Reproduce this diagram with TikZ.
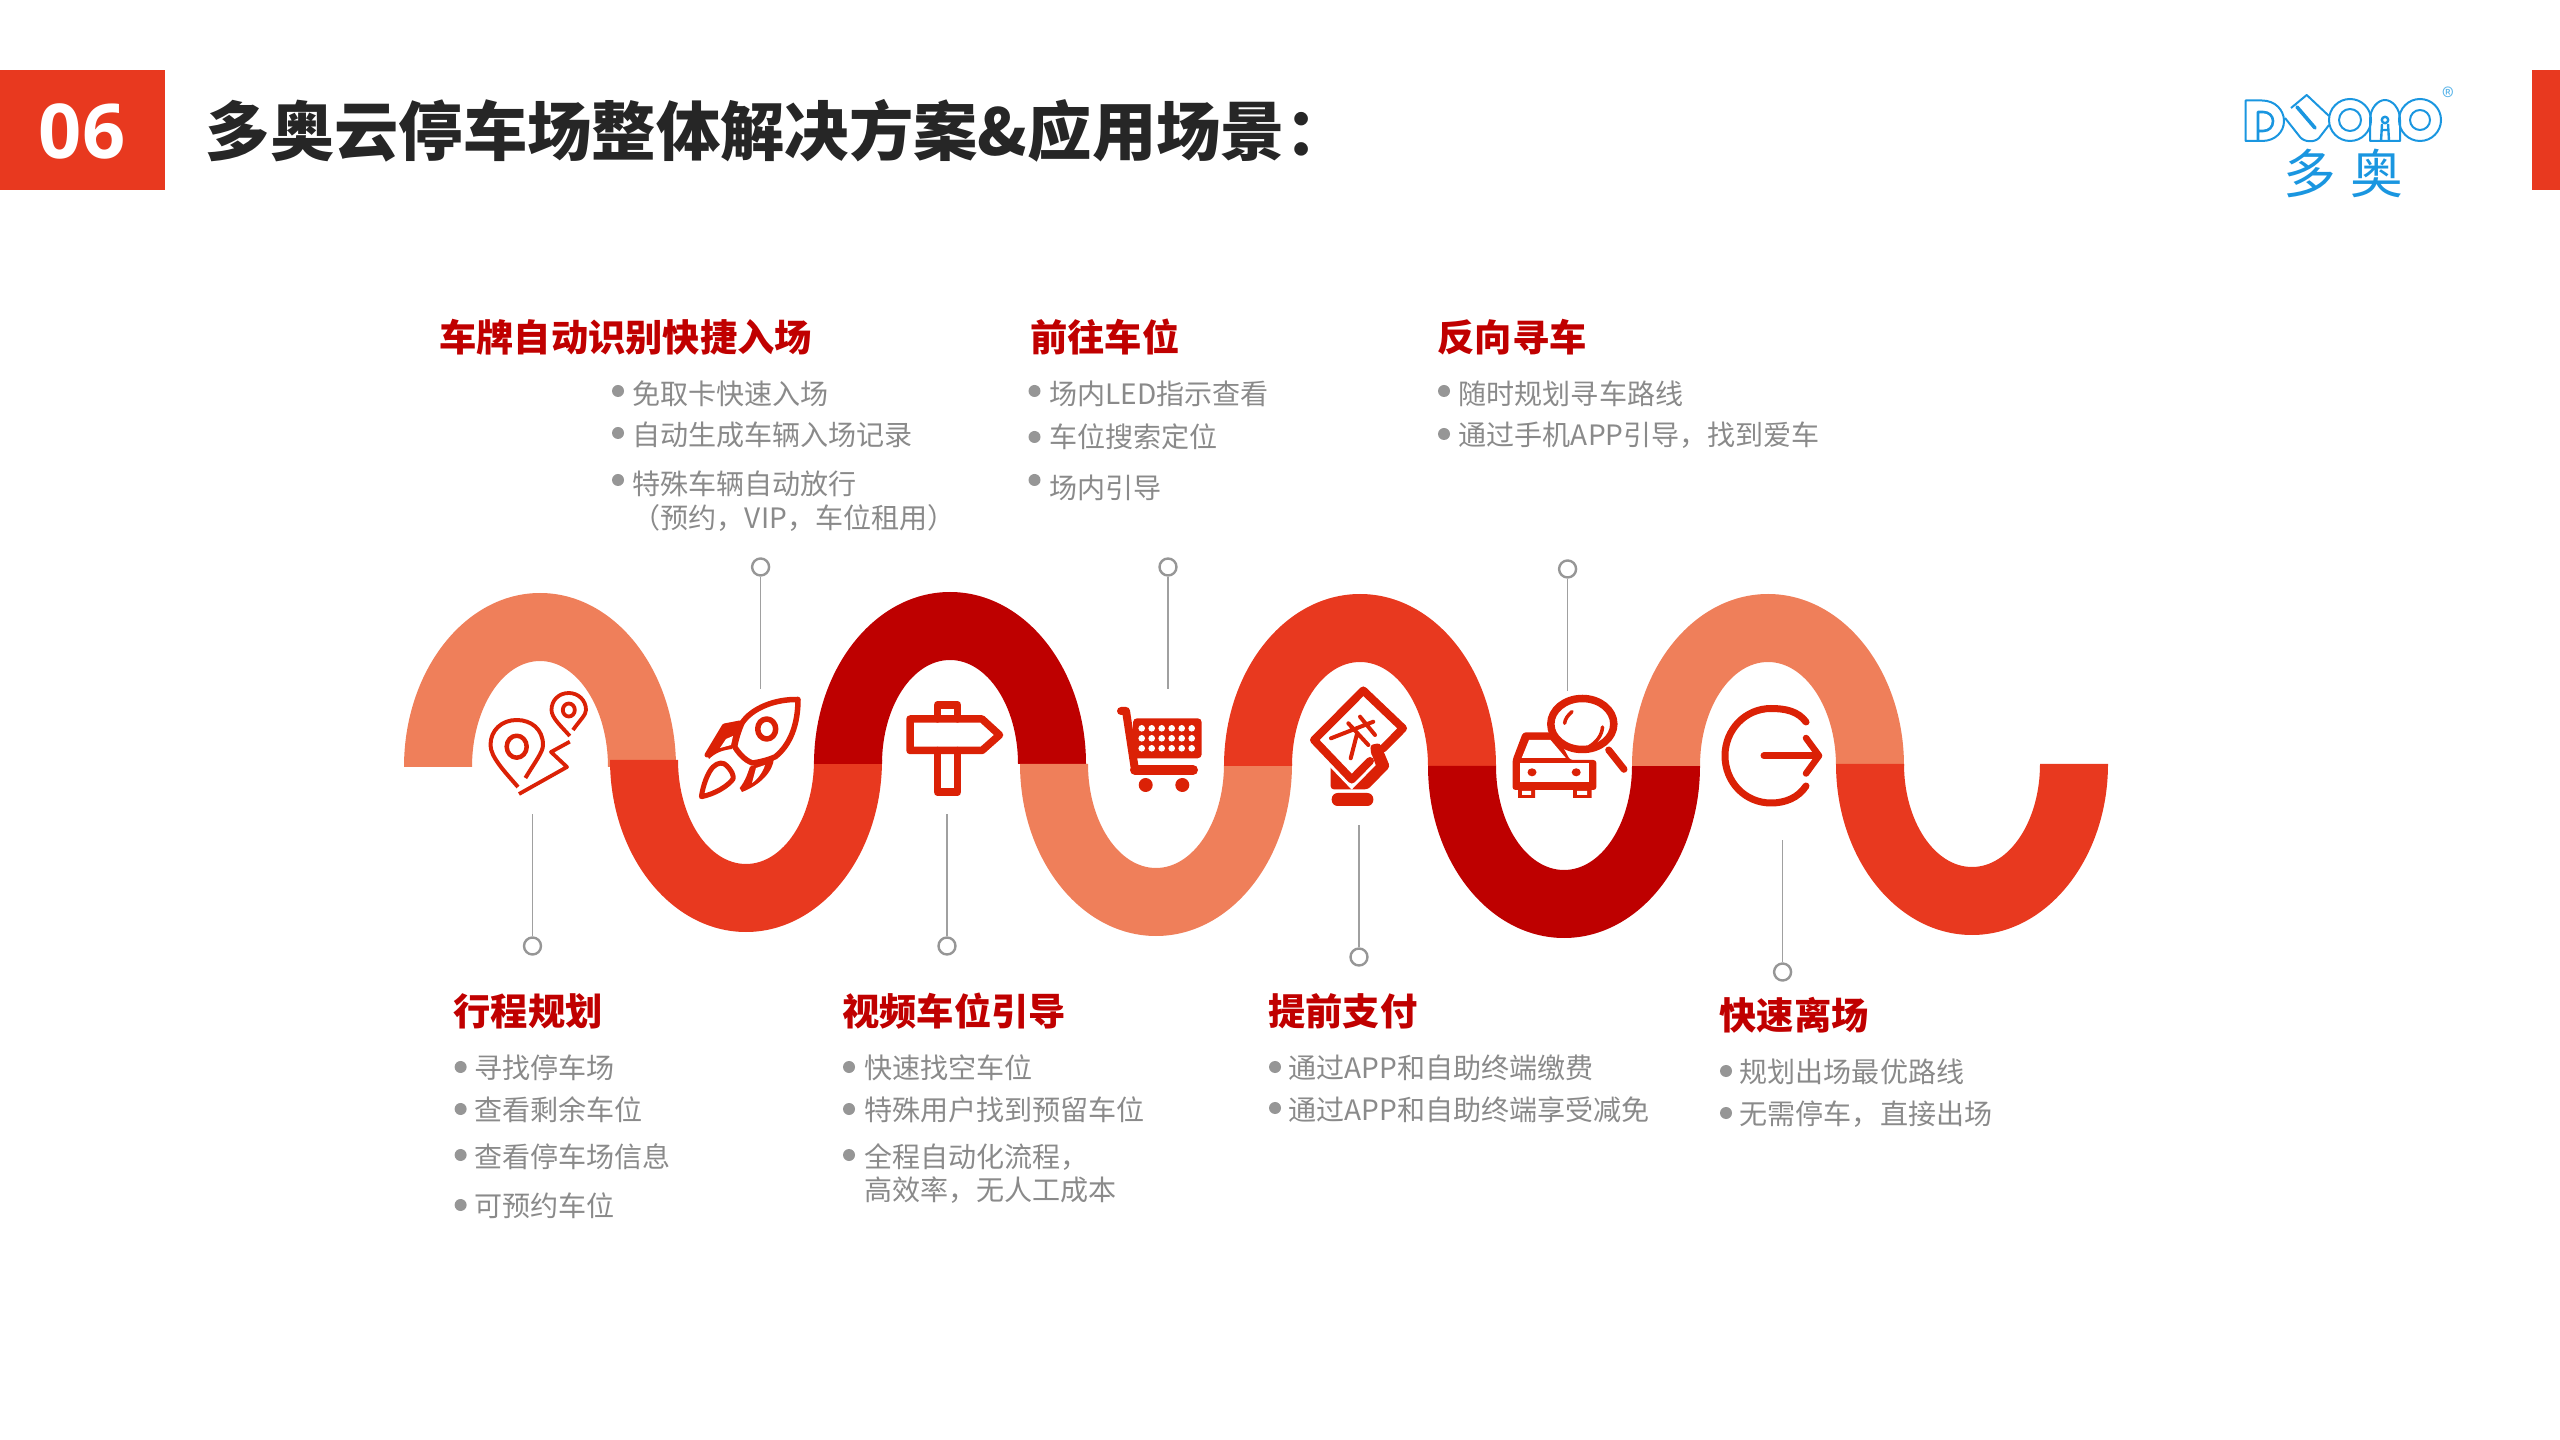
\documentclass[tikz,border=0pt]{standalone}
\usepackage{fontspec}
\setmainfont{Noto Sans CJK SC}
\newfontfamily\cjk{Noto Sans CJK SC}
\newfontfamily\latinb{Open Sans}
\usetikzlibrary{calc}
\definecolor{redA}{HTML}{E8391F}
\definecolor{salmon}{HTML}{EF7F5A}
\definecolor{darkred}{HTML}{BE0000}
\definecolor{iconred}{HTML}{DB2106}
\definecolor{headred}{HTML}{C00000}
\definecolor{bodygray}{HTML}{8A8A8A}
\definecolor{bulgray}{HTML}{969696}
\definecolor{leadgray}{HTML}{A0A0A0}
\definecolor{logoblue}{HTML}{1A96E0}
\definecolor{titleink}{HTML}{262626}
\def\px{0.2845pt}
\tikzset{
  x=0.01cm,y=-0.01cm,
  hd/.style={anchor=base west,inner sep=0pt,text=headred,font=\cjk\bfseries\fontsize{10.6pt}{12pt}\selectfont},
  bodyt/.style={anchor=base west,inner sep=0pt,text=bodygray,font=\cjk\fontsize{7.98pt}{9pt}\selectfont},
  bul/.style={circle,fill=bulgray,inner sep=0pt,minimum size=12*\px},
  ring/.style={circle,draw=bulgray,line width=2.4*\px,fill=white,inner sep=0pt,minimum size=17*\px},
  lead/.style={draw=leadgray,line width=1.4*\px},
  ico/.style={draw=iconred,line width=5*\px,line join=round,line cap=round},
  icof/.style={fill=iconred,draw=none},
  logol/.style={draw=logoblue,line width=2*\px,line join=round},
}
\newcommand{\archshape}[4]{%cx,base,ry-outer,colour
  \fill[#4] ({#1-136},#2) arc[start angle=180,end angle=360,x radius=136,y radius=#3]
    -- ({#1+68},#2) arc[start angle=360,end angle=180,x radius=68,y radius={#3-68}] -- cycle;}
\newcommand{\ushape}[4]{%
  \fill[#4] ({#1-136},#2) arc[start angle=180,end angle=0,x radius=136,y radius=#3]
    -- ({#1+68},#2) arc[start angle=0,end angle=180,x radius=68,y radius={#3-68}] -- cycle;}
\newcommand{\bl}[6]{%name,bx,by,tx,baseline,text
  \node[bul] (b#1) at (#2,#3) {};
  \node[bodyt] (t#1) at (#4,{#5+1}) {#6};}
\begin{document}
\begin{tikzpicture}
\useasboundingbox (0,0) rectangle (2560,1440);
% header
\fill[redA] (0,70) rectangle (165,190);
\fill[redA] (2532,70) rectangle (2560,190);
\node[anchor=base,inner sep=0pt,text=white,font=\latinb\bfseries\fontsize{21.5pt}{24pt}\selectfont] (num) at (82,159) {06};
\node[anchor=base west,inner sep=0pt,text=titleink,font=\cjk\bfseries\fontsize{18.3pt}{22pt}\selectfont] (title) at (205,156) {多奥云停车场整体解决方案\&应用场景：};
% logo
\begin{scope}
\draw[logol] (2245.5,100.5) -- (2262,100.5) .. controls (2275,100.5) and (2284,110) .. (2284,121) .. controls (2284,132) and (2275,141) .. (2262,141) -- (2245.5,141) -- cycle;
\draw[logol,line width=2.6*\px] (2258,140) -- (2258,112) -- (2263,112) .. controls (2269,112) and (2273,116) .. (2273,121) .. controls (2273,127) and (2269,131) .. (2263,131) -- (2259,131);
\draw[logol] (2291,108) -- (2306.7,95) -- (2329,116);
\draw[logol] (2285,118) -- (2300,137) .. controls (2304,142) and (2314,143) .. (2319,138) -- (2329,125);
\draw[logol,line width=3.6*\px,line cap=round] (2297,107) -- (2315,128);
\draw[logol] (2350,120) circle[radius=21];
\draw[logol] (2350,120) circle[radius=11];
\draw[logol] (2370,141) -- (2370,120) .. controls (2370,108) and (2378,100) .. (2385,100) .. controls (2392,100) and (2400,108) .. (2400,120) -- (2400,141) -- cycle;
\draw[logol,line width=2.4*\px] (2385,120) circle[radius=3.2];
\draw[logol,line width=2.4*\px] (2381,141) -- (2382,124) (2389,141) -- (2388,124) (2381,130) -- (2389,130);
\draw[logol] (2420,120) circle[radius=21];
\draw[logol] (2420,120) circle[radius=10];
\node[inner sep=0pt,text=logoblue!70,font=\cjk\fontsize{7pt}{8pt}\selectfont] (reg) at (2448.7,96.7) {®};
\node[inner sep=0pt,text=logoblue,font=\cjk\fontsize{15pt}{18pt}\selectfont] (logotext) at (2343,173) {多\hspace{4pt}奥};
\end{scope}
% ribbon
\archshape{540}{767}{174}{salmon}
\ushape{746}{760}{172}{redA}
\archshape{950}{764}{172}{darkred}
\ushape{1156}{764}{172}{salmon}
\archshape{1360}{766}{172}{redA}
\ushape{1564}{766}{172}{darkred}
\archshape{1768}{766}{172}{salmon}
\ushape{1972}{764}{171}{redA}
% leaders
\node[ring] (c1) at (532.5,946) {}; \coordinate (e1) at (532.5,814); \draw[lead] (c1) -- (e1);
\node[ring] (c2) at (760.6,567) {}; \coordinate (e2) at (760.6,689); \draw[lead] (c2) -- (e2);
\node[ring] (c3) at (947,946) {}; \coordinate (e3) at (947,814); \draw[lead] (c3) -- (e3);
\node[ring] (c4) at (1168,567) {}; \coordinate (e4) at (1168,689); \draw[lead] (c4) -- (e4);
\node[ring] (c5) at (1359,957) {}; \coordinate (e5) at (1359,825); \draw[lead] (c5) -- (e5);
\node[ring] (c6) at (1567.6,569) {}; \coordinate (e6) at (1567.6,691); \draw[lead] (c6) -- (e6);
\node[ring] (c7) at (1782.6,972) {}; \coordinate (e7) at (1782.6,840); \draw[lead] (c7) -- (e7);
% icon 1 pins
\draw[ico,line cap=butt,line width=4*\px] (525.4,778) .. controls (535,762) and (543,752) .. (543,745) .. controls (543,729) and (531,720) .. (516.7,720) .. controls (502,720) and (490.5,730) .. (490.5,745) .. controls (490.5,757) and (505,772) .. (518,787);
\draw[ico,line width=4.5*\px] (516.7,746.7) ellipse[x radius=10,y radius=11];
\draw[ico,line cap=butt,line width=3.8*\px] (573,730) .. controls (580,720) and (586,715) .. (586,710) .. controls (586,700) and (578,693) .. (568.8,693) .. controls (559,693) and (551.5,700) .. (551.5,710) .. controls (551.5,718) and (562,727) .. (569.8,736);
\draw[ico,line width=3.8*\px] (568.8,710) ellipse[x radius=6,y radius=6.5];
\draw[ico,line cap=butt,line width=3.8*\px] (569.8,741.7) -- (551,752) -- (567,767) -- (519,794);
% icon 2 rocket
\draw[ico,line width=5.5*\px] (798,699.5) .. controls (775,699) and (752,708) .. (742,723) .. controls (738,732) and (736,740) .. (734.6,746.7) .. controls (738,752) and (744,760) .. (752.4,763) .. controls (760,762) and (768,760) .. (775.4,756.7) .. controls (790,745) and (798,725) .. (798,699.5) -- cycle;
\draw[ico,line width=5.5*\px] (766.7,729) ellipse[x radius=9,y radius=10];
\fill[iconred] (739.7,723) -- (724.4,726) -- (707,755) -- (709,759) .. controls (716,752) and (724,750) .. (732,749) -- cycle;
\fill[white] (733,736) -- (726,739) -- (720,748) -- (731,745) -- cycle;
\draw[ico,line width=5*\px] (739.7,723) -- (724.4,726) -- (707,755);
\fill[iconred] (774,758) .. controls (773,772) and (760,785) .. (742,792) -- (739.7,788) .. controls (746,780) and (748,772) .. (750,766.7) -- cycle;
\fill[white] (765,765) .. controls (763,772) and (757,780) .. (752,783) -- (756,768) -- cycle;
\draw[ico,line width=5*\px] (701.4,796.7) .. controls (703,785) and (708,772) .. (713,767) .. controls (718,762) and (724,762) .. (727,766) .. controls (731,770) and (734,775) .. (733,779) .. controls (728,786) and (715,794) .. (701.4,796.7) -- cycle;
% icon 3 signpost
\draw[ico,line width=7.5*\px] (910,719) -- (982,719) -- (999.5,735) -- (982,750.5) -- (910,750.5) -- cycle;
\draw[ico,line width=7.5*\px] (937.5,719) -- (937.5,705) -- (957.6,705) -- (957.6,719);
\draw[ico,line width=7.5*\px] (937.5,750.5) -- (937.5,792) -- (957.6,792) -- (957.6,750.5);
% icon 4 cart
\fill[iconred,rounded corners=4*\px] (1133,718.3) rectangle (1201.7,758.3);
\draw[ico,line width=8*\px] (1121,711) -- (1126,711) -- (1135,770) -- (1193,770);
\draw[ico,line width=10*\px] (1135,770) -- (1193,770);
\foreach \ix in {0,...,5}{\foreach \iy in {0,1,2}{\fill[white] ({1141.7+10*\ix},{728.3+10*\iy}) circle[radius=3.3];}}
\fill[iconred] (1145.7,785) circle[radius=7];
\fill[iconred] (1182.3,785) circle[radius=7];
% icon 5 payment
\fill[iconred,rounded corners=3*\px] (1330.7,762) -- (1330.7,789.3) -- (1368,789.3) -- (1390,766.7) -- (1380,743) -- (1370,745) -- (1373,762) -- (1353,784) -- cycle;
\draw[white,line width=11*\px,line cap=round] (1311.7,740) -- (1351.7,781.7) -- (1373,760);
\draw[ico,line width=8*\px] (1383,748.5) -- (1403,728.3) -- (1363.3,690.5) -- (1314,740) -- (1351.7,779.5) -- (1370,761);
\fill[iconred,rounded corners=6*\px] (1331.7,793) rectangle (1373.3,806);
\draw[iconred,line width=11*\px,line cap=round] (1376,750) -- (1382,766);
\draw[ico,line width=4*\px] (1348.3,723.3) -- (1368.3,745) (1360,716.7) -- (1375,735) (1331,738.3) -- (1373.3,721.7) (1356.7,735) -- (1350.7,758.3);
% icon 6 car and magnifier
\fill[iconred,rounded corners=3*\px] (1512.5,790) -- (1512.5,760) -- (1523,732.3) -- (1555,732.3) -- (1570,760) -- (1596.4,760) -- (1596.4,790) -- cycle;
\fill[iconred] (1518,788) rectangle (1535,798) (1573,788) rectangle (1591.5,798);
\fill[white] (1521.7,758) -- (1529,740) -- (1550.5,740) -- (1565.8,758) -- cycle;
\fill[white] (1520,763.3) rectangle (1589,781.7);
\fill[white] (1522,791) rectangle (1531,795) (1577,791) rectangle (1587,795);
\fill[iconred] (1532,772.3) ellipse[x radius=4.5,y radius=4] (1576.2,772.3) ellipse[x radius=4.5,y radius=4];
\draw[ico,line width=7.5*\px,fill=white] (1582.3,724) ellipse[x radius=31.5,y radius=25.5];
\draw[ico,line width=7*\px] (1608.7,750) -- (1624,769.3);
\draw[ico,line width=3.5*\px] (1572,711.7) .. controls (1568,715) and (1565,719) .. (1564.6,723.3);
\draw[ico,line width=3.5*\px] (1602.5,727) .. controls (1602,735) and (1597,742) .. (1589,746.7);
% icon 7 exit
\draw[ico,line width=7*\px] (1806,722) .. controls (1798,711) and (1785,708.5) .. (1771,708.5) .. controls (1745,708.5) and (1725,730) .. (1725,755.7) .. controls (1725,782) and (1745,803) .. (1771,803) .. controls (1785,803) and (1798,798) .. (1806,786);
\draw[ico,line width=7*\px] (1764,755.7) -- (1818,755.7);
\draw[ico,line width=6.5*\px] (1806,738) -- (1819,755.7) -- (1806,773.5);
% headings
\node[hd] (h1) at (438.5,351.5) {车牌自动识别快捷入场};
\node[hd] (h2) at (1029.5,351.5) {前往车位};
\node[hd] (h3) at (1437,351.5) {反向寻车};
\node[hd] (h4) at (453,1025) {行程规划};
\node[hd] (h5) at (841.5,1025) {视频车位引导};
\node[hd] (h6) at (1267.5,1025) {提前支付};
\node[hd] (h7) at (1719,1029) {快速离场};
% bullets
\bl{a1}{618}{391}{631.5}{404}{免取卡快速入场}
\bl{a2}{618}{433}{631.5}{445}{自动生成车辆入场记录}
\bl{a3}{618}{480}{631.5}{494}{特殊车辆自动放行}
\node[bodyt] (ta4) at (632,529) {（预约，VIP，车位租用）};
\bl{b1}{1034.5}{391}{1048.5}{404}{场内LED指示查看}
\bl{b2}{1034.5}{437}{1048.5}{447}{车位搜索定位}
\bl{b3}{1034.5}{480}{1048.5}{498}{场内引导}
\bl{c1}{1444}{391}{1458}{404}{随时规划寻车路线}
\bl{c2}{1444}{434}{1458}{445}{通过手机APP引导，找到爱车}
\bl{d1}{460.6}{1067}{473.5}{1077}{寻找停车场}
\bl{d2}{460.6}{1109}{473.5}{1119}{查看剩余车位}
\bl{d3}{460.6}{1155}{473.5}{1166}{查看停车场信息}
\bl{d4}{460.6}{1205}{473.5}{1215}{可预约车位}
\bl{e1}{849}{1067}{863.5}{1077}{快速找空车位}
\bl{e2}{849}{1109}{863.5}{1119}{特殊用户找到预留车位}
\bl{e3}{849}{1155}{863.5}{1166}{全程自动化流程，}
\node[bodyt] (te4) at (863.5,1200) {高效率，无人工成本};
\bl{f1}{1275}{1067}{1288}{1077}{通过APP和自助终端缴费}
\bl{f2}{1275}{1108}{1288}{1119}{通过APP和自助终端享受减免}
\bl{g1}{1726}{1071}{1739}{1081}{规划出场最优路线}
\bl{g2}{1726}{1113}{1739}{1123}{无需停车，直接出场}
\end{tikzpicture}
\end{document}
